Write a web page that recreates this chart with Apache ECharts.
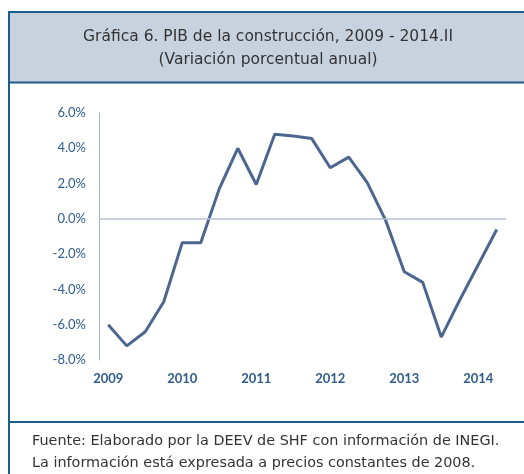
<!DOCTYPE html>
<html>
<head>
<meta charset="utf-8">
<script src="https://cdn.jsdelivr.net/npm/echarts@6/dist/echarts.min.js"></script>
<style>
  html, body { margin: 0; padding: 0; background: #fff; }
  #main { width: 524px; height: 474px; }
</style>
</head>
<body>
<div id="main"></div>
<script>
// trimestres 2009.I - 2014.II
const quarters = [
  '2009-I', '2009-II', '2009-III', '2009-IV',
  '2010-I', '2010-II', '2010-III', '2010-IV',
  '2011-I', '2011-II', '2011-III', '2011-IV',
  '2012-I', '2012-II', '2012-III', '2012-IV',
  '2013-I', '2013-II', '2013-III', '2013-IV',
  '2014-I', '2014-II',
];
// variación porcentual anual
const pibConstruccion = [
  -6.0, -7.2, -6.4, -4.7,
  -1.35, -1.35, 1.7, 4.0,
  1.95, 4.8, 4.7, 4.55,
  2.9, 3.5, 2.05, -0.1,
  -3.0, -3.6, -6.7, -4.6,
  -2.6, -0.6,
];
const titleLines = ['Gráfica 6. PIB de la construcción, 2009 - 2014.II', '(Variación porcentual anual)'];
const footLines = [
  'Fuente: Elaborado por la DEEV de SHF con información de INEGI.',
  'La información está expresada a precios constantes de 2008.',
];

const frameColor = '#1b5d8a';
const lastIdx = pibConstruccion.length - 1;

const myChart = echarts.init(document.getElementById('main'));

const option = {
  animation: false,
  backgroundColor: '#fff',
  title: [
    {
      text: titleLines.join('\n'),
      left: 263,
      top: 20,
      textAlign: 'center',
      textStyle: {
        fontFamily: 'DejaVu Sans',
        fontWeight: 'normal',
        fontSize: 15.5,
        lineHeight: 23,
        color: '#333',
      },
    },
    {
      text: footLines.join('\n'),
      left: 27,
      top: 425,
      textStyle: {
        fontFamily: 'DejaVu Sans',
        fontWeight: 'normal',
        fontSize: 14.4,
        lineHeight: 22,
        color: '#333',
      },
    },
  ],
  graphic: [
    {
      type: 'rect',
      z: -1,
      shape: { x: 9, y: 12, width: 520, height: 71 },
      style: { fill: '#c8d2de' },
    },
    { type: 'line', shape: { x1: 8, y1: 12, x2: 524, y2: 12 }, style: { stroke: frameColor, lineWidth: 2 } },
    { type: 'line', shape: { x1: 8, y1: 82.5, x2: 524, y2: 82.5 }, style: { stroke: frameColor, lineWidth: 2 } },
    { type: 'line', shape: { x1: 8, y1: 422, x2: 524, y2: 422 }, style: { stroke: frameColor, lineWidth: 2 } },
    { type: 'line', shape: { x1: 9, y1: 11, x2: 9, y2: 474 }, style: { stroke: frameColor, lineWidth: 2 } },
  ],
  grid: {
    left: 99,
    right: 18,
    top: 113,
    bottom: 114,
  },
  xAxis: {
    type: 'category',
    data: quarters,
    boundaryGap: true,
    axisLine: { show: false },
    axisTick: { show: false },
    axisLabel: {
      interval: 3,
      margin: 12,
      color: '#2f5c8c',
      fontFamily: 'Lato',
      fontWeight: 'bold',
      fontSize: 13,
      formatter: function (v) {
        return v.split('-')[0];
      },
    },
  },
  yAxis: {
    type: 'value',
    min: -8,
    max: 6,
    interval: 2,
    axisLine: { show: true, lineStyle: { color: '#a7b2c3', width: 1 } },
    axisTick: { show: false },
    splitLine: { show: false },
    axisLabel: {
      margin: 13,
      color: '#2f5c8c',
      fontFamily: 'Lato',
      fontSize: 13,
      formatter: function (v) {
        return v.toFixed(1) + '%';
      },
    },
  },
  series: [
    {
      name: 'PIB construcción',
      type: 'line',
      symbol: 'none',
      lineStyle: { color: '#4d6690', width: 3 },
      data: pibConstruccion.map(function (v, i) {
        if (i !== lastIdx) return v;
        return {
          value: v,
          label: {
            show: true,
            position: 'top',
            distance: 14,
            color: '#2f5c8c',
            fontFamily: 'Lato',
            fontSize: 13,
            formatter: function (p) {
              return p.value.toFixed(1) + '%';
            },
          },
        };
      }),
      markLine: {
        silent: true,
        symbol: 'none',
        label: { show: false },
        lineStyle: { color: '#b6c0d6', type: 'solid', width: 1.5 },
        data: [{ yAxis: 0 }],
      },
    },
  ],
};

myChart.setOption(option);
</script>
</body>
</html>
